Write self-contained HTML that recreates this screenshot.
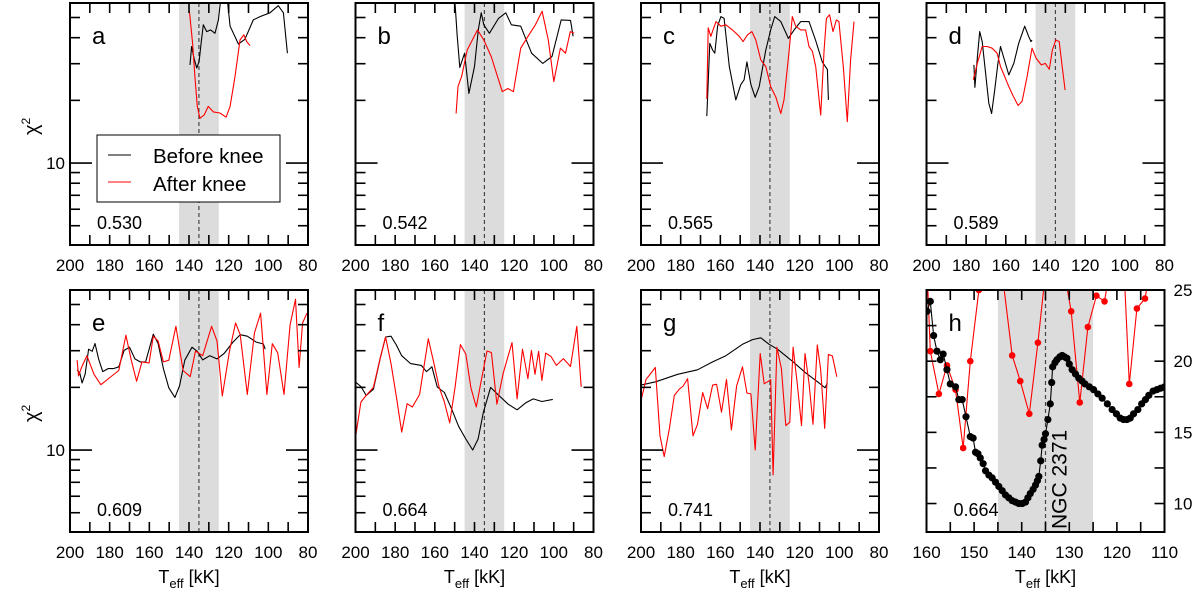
<!DOCTYPE html>
<html><head><meta charset="utf-8"><style>
html,body{margin:0;padding:0;background:#fff;}
svg{display:block;font-family:"Liberation Sans",Arial,sans-serif;}
</style></head><body>
<svg id="chart" width="1200" height="591" viewBox="0 0 1200 591" xmlns="http://www.w3.org/2000/svg"></svg>
<script>
// ---- data (T in kK, chi^2) ----
const aBlackT=[139.5,138.7,137.5,136.1,134.9,133.9,132.8,131.1,129.1,126.9,125.2,124.0,120.7,119.3,115.1,111.8,107.6,104.2,99.2,95.0,92.4,90.4];
const aBlackV=[29.6,36.3,31.9,28.6,30.7,37.6,46.1,42.8,43.6,42.0,48.7,61,61,45.4,37.3,39.3,48.7,50.5,52.7,57,52.7,33.7];
const aRedT=[139.8,138.2,137.0,135.8,134.5,132.4,130.3,127.7,124.4,121.3,119.3,116.8,114.3,112.3,110.9,109.2];
const aRedV=[53.6,37.6,26.0,18.7,16.4,17.0,18.7,17.6,17.4,16.6,18.7,26,39,41.3,38.3,36.6];
const bBlackT=[149.8,148.7,147.4,145.0,142.8,140.0,138.1,136.6,135.3,132.5,127.9,124.2,121.4,116.7,111.2,105.6,100.9,96.3,91.6,90.3];
const bBlackV=[58,40.8,28.8,33.7,21.6,29.1,43.6,52.7,46.1,42.0,49.5,52.7,46.1,45.4,33.7,30.1,32.5,48.7,48.4,40.6];
const bRedT=[149.3,148.3,146.5,143.7,138.5,135.3,131.6,126.0,123.2,120.4,116.7,113.0,109.3,105.9,102.8,100.0,96.7,94.1,91.7,89.8];
const bRedV=[17.3,23.3,26.0,34.9,43.6,39.0,32.5,22.0,22.8,22.0,35.6,40.6,46.1,53.6,39.0,24.6,35.6,33.7,42.8,42.0];
const cBlackT=[166.8,166.4,165.3,163.9,162.8,161.4,159.7,158.1,155.5,152.2,149.7,148.0,146.6,144.6,142.4,140.4,137.1,134.6,132.6,129.5,125.7,122.8,119.5,115.3,112.0,108.6,106.0,105.5];
const cBlackV=[16.8,20.7,37.6,34.9,33.7,45.4,50.5,49.5,29.1,20.1,23.8,25.1,30.6,23.8,20.7,23.3,34.9,43.6,50.5,47.8,39.7,43.6,47.8,47.8,39.0,30.6,28.1,20.1];
const cRedT=[166.8,166.1,164.8,162.2,159.7,157.2,153.9,150.5,148.5,146.3,144.1,142.1,139.6,137.1,134.6,132.0,129.5,127.9,125.3,123.7,122.0,119.5,117.0,115.3,113.6,111.9,109.4,107.7,106.5,104.9,103.2,101.5,100.2,98.0,96.0,94.3,92.6];
const cRedV=[20.3,44.6,40.6,47.8,45.4,46.1,43.6,40.6,38.3,41.3,42.8,39.0,31.3,29.1,23.3,20.7,17.3,20.1,34.9,50.5,45.4,43.6,43.6,36.3,34.4,29.1,17.0,34.9,49.5,51.5,42.8,48.7,47.8,29.1,15.8,31.3,47.8];
const dBlackT=[176.1,175.6,174.4,173.2,171.9,170.2,168.6,167.2,165.6,164.0,162.7,161.0,158.5,156.0,153.5,150.5,148.5,147.3,146.8];
const dBlackV=[29.6,23.1,31.9,42.8,38.3,27.0,19.4,17.3,22.4,30.1,36.3,31.9,26.5,30.1,37.6,45.4,40.6,38.3,39.0];
const dRedT=[176.4,174.4,171.9,169.4,166.9,164.4,162.7,158.5,156.0,153.8,151.8,149.3,146.8,144.8,142.1,140.1,138.1,136.5,134.8,133.1,131.8,130.1];
const dRedV=[25.1,30.1,36.3,36.3,35.6,33.7,29.1,23.3,20.7,18.9,19.8,26.0,35.6,31.9,29.6,30.1,28.2,34.9,39.0,38.3,30.1,22.4];
const eBlackT=[196.4,195.1,193.9,192.4,190.6,188.8,187.4,185.6,183.5,180.8,178.1,175.4,172.7,170.0,167.3,164.6,161.9,158.0,155.6,152.9,150.2,147.1,144.8,142.1,138.5,135.8,133.1,129.5,125.9,122.3,117.8,114.2,110.6,106.1,102.5,101.6];
const eBlackV=[24.3,23.5,21.0,23.1,30.5,29.8,32.5,27.4,23.8,24.6,24.6,25.1,30.1,31.2,27.4,26.5,26.5,36.0,32.5,24.6,19.9,17.9,20.3,27.0,31.2,29.8,27.1,28.4,27.4,29.1,33.0,35.8,35.2,33.0,32.3,30.5];
const eRedT=[196.4,195.7,194.2,191.5,187.9,184.4,179.9,175.4,171.8,169.1,166.4,163.7,160.1,158.0,155.6,152.9,150.2,146.6,143.0,139.4,136.7,133.1,128.6,125.9,123.2,119.6,116.5,114.2,110.6,107.0,103.9,100.7,98.0,95.3,92.1,89.0,86.3,84.5,82.7,80.5];
const eRedV=[27.0,22.7,24.9,28.4,23.1,20.6,22.3,24.1,35.6,27.0,21.4,26.5,26.2,35.2,33.4,26.5,27.0,39.3,24.1,22.5,29.9,28.4,39.3,33.4,18.2,29.9,40.8,35.8,18.5,36.6,45.4,18.5,32.4,29.3,18.5,40.0,53.0,24.9,40.8,45.4];
const fBlackT=[200,197.3,194.6,191.0,187.5,184.8,182.1,179.4,176.7,172.2,166.8,164.2,161.5,158.8,155.2,151.6,148.0,144.4,140.9,138.2,135.5,131.9,128.3,123.0,118.5,114.0,110.4,106.0,100.5];
const fBlackV=[21.2,20.2,18.3,19.6,27.7,34.9,35.2,31.9,28.4,26.0,25.5,23.8,25.1,20.1,18.9,15.8,13.0,11.3,10.0,11.3,15.2,20.0,18.5,16.6,15.6,16.9,17.6,17.1,17.5];
const fRedT=[200,197.3,194.6,191.0,187.5,184.8,182.1,179.4,176.7,174.0,171.3,167.7,163.3,160.6,157.9,155.2,152.5,149.8,147.1,144.4,141.8,139.1,136.4,133.7,131.5,128.7,125.6,121.1,118.5,115.8,113.1,111.3,109.5,107.7,106.0,104.1,101.4,98.7,95.2,91.6,88.4,86.2];
const fRedV=[11.5,17.0,18.3,20.0,27.7,34.9,26.0,18.0,12.2,16.7,16.1,18.5,34.2,26.5,20.1,17.0,13.5,20.1,32.1,28.9,19.9,16.1,22.0,29.9,29.4,16.6,23.3,32.8,17.6,30.5,22.0,30.1,23.1,29.8,21.6,29.2,28.1,25.5,27.5,25.2,39.3,20.1];
const gBlackT=[200,192.4,181.5,171.5,163.9,157.2,148.8,143.8,139.6,135.4,131.2,123.7,117.0,110.2,107.2,106.0];
const gBlackV=[20.5,21.3,23.1,24.3,26.5,28.4,32.2,33.9,34.6,32.2,30.5,26.7,23.5,21.0,19.9,21.0];
const gRedT=[200,197.5,192.8,190.4,188.3,185.7,183.2,180.7,178.7,176.5,173.8,171.5,168.9,166.4,163.9,161.9,159.4,156.9,154.4,151.8,148.8,146.6,144.6,142.4,139.9,137.9,135.7,134.6,133.4,131.5,129.2,127.0,125.0,123.3,121.1,119.1,117.3,115.3,113.3,111.1,109.4,107.4,105.5,103.5,101.3];
const gRedV=[17.3,21.8,24.9,11.7,9.3,12.7,18.3,19.6,20.3,22.0,11.7,13.3,18.9,15.8,20.5,20.7,15.2,21.8,12.5,20.3,25.1,18.8,18.6,10.0,29.1,20.8,21.4,21.8,7.6,31.2,24.6,13.1,13.6,31.2,20.3,13.1,29.1,21.0,13.3,32.0,24.3,12.7,28.8,28.3,22.5];
const hBlackT=[159.9,159.2,158.5,157.8,157.1,156.5,155.7,155.0,153.9,153.2,152.5,151.7,150.8,150.2,149.7,149.2,148.7,148.1,147.6,146.9,146.2,145.5,144.8,144.1,143.4,142.7,142.0,141.3,140.6,139.9,139.2,138.7,138.2,137.6,137.1,136.7,136.4,136.0,135.7,135.3,135.0,134.5,134.0,133.7,133.5,133.0,132.6,132.0,131.5,131.0,130.5,130.0,129.4,128.7,128.0,127.3,126.7,125.8,124.9,124.0,123.1,122.0,121.0,120.1,119.3,118.6,117.9,117.2,116.5,115.6,114.8,114.0,113.3,112.4,111.6,110.8,110.0];
const hBlackV=[23.5,24.2,21.8,20.7,20.1,20.5,19.4,18.4,18.2,17.3,17.3,16.1,14.7,14.6,13.6,13.5,13.2,12.8,12.3,12.0,11.8,11.5,11.2,10.9,10.6,10.4,10.2,10.1,10.0,10.0,10.1,10.4,10.7,11.0,11.3,11.6,11.9,13.0,14.1,14.5,14.9,15.9,17.0,18.5,19.6,19.9,20.1,20.3,20.4,20.3,20.2,19.8,19.4,19.1,18.8,18.6,18.4,18.2,18.0,17.7,17.4,17.0,16.6,16.3,16.0,15.9,15.9,16.0,16.3,16.6,17.0,17.3,17.6,17.9,18.0,18.1,18.2];
const hRedT=[159.7,159.2,157.4,155.7,153.9,152.3,150.8,149.0,145.5,142.0,140.3,138.4,136.6,135.4,132.5,129.6,127.8,126.1,124.3,122.6,122.2,120.2,118.3,117.4,115.8,114.1,113.5];
const hRedV=[25,20.7,17.7,19.7,18.0,13.9,20.0,25,30,20.4,18.6,16.3,21.3,25,29,23.5,17.1,22.4,24.6,24.2,25,29,25,18.4,23.7,24.4,25.5];
const hRedDotT=[159.2,157.4,155.7,153.9,152.3,150.8,149.0,142.0,140.3,138.4,136.6,129.6,127.8,126.1,124.3,122.6,117.4,115.8,114.1];
const hRedDotV=[20.7,17.7,19.7,18.0,13.9,20.0,25,20.4,18.6,16.3,21.3,23.5,17.1,22.4,24.6,24.2,18.4,23.7,24.4];
const valueLabels=["0.530","0.542","0.565","0.589","0.609","0.664","0.741","0.664"];
const panelLetters=["a","b","c","d","e","f","g","h"];
const xTickLabels=["200","180","160","140","120","100","80"];
const hXTickLabels=["160","150","140","130","120","110"];
const hYTickLabels=["25","20","15","10"];

const NS="http://www.w3.org/2000/svg";
const svg=document.getElementById("chart");
function mk(tag,attrs,parent){const e=document.createElementNS(NS,tag);for(const k in attrs)e.setAttribute(k,attrs[k]);(parent||svg).appendChild(e);return e;}

const W=238,H=242;
const PX=[70,355.5,641,926.5], PY=[3,290];
const series=[[aBlackT,aBlackV,aRedT,aRedV],[bBlackT,bBlackV,bRedT,bRedV],[cBlackT,cBlackV,cRedT,cRedV],[dBlackT,dBlackV,dRedT,dRedV],[eBlackT,eBlackV,eRedT,eRedV],[fBlackT,fBlackV,fRedT,fRedV],[gBlackT,gBlackV,gRedT,gRedV]];
const LMAX=Math.log10(58.7),LMIN=Math.log10(4.04);

for(let p=0;p<8;p++){
  const x0=PX[p%4],y0=PY[Math.floor(p/4)];
  const isH=p===7;
  const g=mk("g",{});
  
  
  const tmin=isH?110:80,tmax=isH?160:200;
  const xs=t=>x0+(tmax-t)/(tmax-tmin)*W;
  const ys=isH?(v=>y0+(25-v)/(25-8)*H):(v=>y0+(LMAX-Math.log10(v))/(LMAX-LMIN)*H);
  const cid="clip"+p;
  const cp=mk("clipPath",{id:cid},g);mk("rect",{x:x0,y:y0,width:W,height:H},cp);
  const band=mk("rect",{x:xs(145),y:y0,width:xs(125)-xs(145),height:H,fill:"#dcdcdc"},g);
  
  
  const dl=mk("line",{x1:xs(135),x2:xs(135),y1:y0,y2:y0+H,stroke:"#444","stroke-width":1.2,"stroke-dasharray":"4,3"},g);
  
  
  const cg=mk("g",{"clip-path":"url(#"+cid+")"},g);
  const path=(T,V,col,w)=>{let d="";T.forEach((t,i)=>{d+=(i?"L":"M")+xs(t).toFixed(1)+","+ys(V[i]).toFixed(1);});return mk("path",{d:d,fill:"none",stroke:col,"stroke-width":w,"stroke-linejoin":"round"},cg);};
  if(!isH){
    const s=series[p];
    const bl=path(s[0],s[1],"#000",1.1);
    
    
    const rl=path(s[2],s[3],"#ff0000",1.1);
    
    
  } else {
    const rl=path(hRedT,hRedV,"#ff0000",1.1);
    
    
    hRedDotT.forEach((t,i)=>{const c=mk("circle",{cx:xs(t),cy:ys(hRedDotV[i]),r:3.3,fill:"#ff0000"},cg);
      
      });
    const bl=path(hBlackT,hBlackV,"#000",1.1);
    
    
    hBlackT.forEach((t,i)=>{const c=mk("circle",{cx:xs(t),cy:ys(hBlackV[i]),r:3.6,fill:"#000"},cg);
      
      });
    const ngc=mk("text",{x:0,y:0,"font-size":21,transform:"translate("+(xs(135)+21)+","+(y0+H-3)+") rotate(-90)"},g);
    ngc.textContent="NGC 2371";
    
    
  }
  const fr=mk("rect",{x:x0,y:y0,width:W,height:H,fill:"none",stroke:"#000","stroke-width":2},g);
  
  
  const step=isH?5:10;
  for(let t=tmin+step;t<tmax;t+=step){const x=xs(t);
    mk("line",{x1:x,x2:x,y1:y0+H,y2:y0+H-10,stroke:"#000","stroke-width":1.6},g);
    mk("line",{x1:x,x2:x,y1:y0,y2:y0+10,stroke:"#000","stroke-width":1.6},g);}
  const labs=isH?hXTickLabels:xTickLabels;
  labs.forEach(l=>{const tx=mk("text",{x:xs(+l),y:y0+H+26,"font-size":17,"text-anchor":"middle"},g);tx.textContent=l;
    
    });
  if(!isH){
    [5,6,7,8,9,20,30,40,50].forEach(v=>{const y=ys(v);
      mk("line",{x1:x0,x2:x0+10,y1:y,y2:y,stroke:"#000","stroke-width":1.6},g);
      mk("line",{x1:x0+W,x2:x0+W-10,y1:y,y2:y,stroke:"#000","stroke-width":1.6},g);});
    const y10=ys(10);
    mk("line",{x1:x0,x2:x0+22,y1:y10,y2:y10,stroke:"#000","stroke-width":1.6},g);
    mk("line",{x1:x0+W,x2:x0+W-22,y1:y10,y2:y10,stroke:"#000","stroke-width":1.6},g);
    if(p%4===0){
      const t10=mk("text",{x:x0-5,y:y10+6,"font-size":17,"text-anchor":"end"},g);t10.textContent="10";
      
      
      const yl=mk("text",{x:0,y:0,"font-size":20,transform:"translate(38,"+(y0+132)+") rotate(-90)"},g);
      yl.innerHTML='χ<tspan dy="-8" font-size="12">2</tspan>';
      
      
    }
  } else {
    for(let v=10;v<25;v+=2.5){const y=ys(v);
      mk("line",{x1:x0,x2:x0+10,y1:y,y2:y,stroke:"#000","stroke-width":1.6},g);
      mk("line",{x1:x0+W,x2:x0+W-10,y1:y,y2:y,stroke:"#000","stroke-width":1.6},g);}
    hYTickLabels.forEach(l=>{const tx=mk("text",{x:x0+W+9,y:ys(+l)+6,"font-size":17},g);tx.textContent=l;
      
      });
  }
  const letter=mk("text",{x:x0+22,y:y0+41,"font-size":24},g);letter.textContent=panelLetters[p];
  
  
  const vl=mk("text",{x:x0+27,y:y0+H-16,"font-size":18},g);vl.textContent=valueLabels[p];
  
  
  if(p>=4){
    const xt=mk("text",{x:x0+W/2,y:583,"font-size":18,"text-anchor":"middle"},g);
    xt.innerHTML='T<tspan dy="5" font-size="13">eff</tspan><tspan dy="-5"> [kK]</tspan>';
    
    
  }
}
const lg=mk("g",{});


mk("rect",{x:97,y:135,width:183,height:67,fill:"#fff",stroke:"#000","stroke-width":1},lg);
const le1=mk("line",{x1:108,x2:131,y1:155,y2:155,stroke:"#000","stroke-width":1.1},lg);


const lt1=mk("text",{x:153,y:163,"font-size":20.5},lg);lt1.textContent="Before knee";


const le2=mk("line",{x1:108,x2:131,y1:182,y2:182,stroke:"#ff0000","stroke-width":1.1},lg);


const lt2=mk("text",{x:153,y:191,"font-size":20.5},lg);lt2.textContent="After knee";


</script>
</body></html>
